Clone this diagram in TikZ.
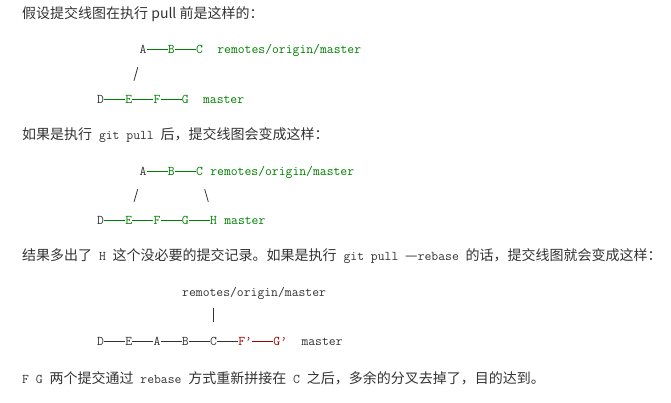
\documentclass[tikz,border=0pt]{standalone}
\usepackage{fontspec}
\setmainfont{Noto Sans CJK SC}
\usetikzlibrary{positioning}
\definecolor{gitgreen}{HTML}{008000}
\definecolor{gitred}{HTML}{A00000}
\definecolor{inktext}{HTML}{333333}
\newcommand{\gitcmd}[1]{{\ttfamily\fontsize{13.3pt}{16pt}\selectfont #1}}

\begin{document}
\begin{tikzpicture}[
      x=1pt, y=-1pt,
      node distance=21pt,
      commit/.style={inner sep=0pt, text height=1.5ex, text depth=0pt,
                     font=\ttfamily\fontsize{13.3pt}{16pt}\selectfont, text=inktext},
      newcommit/.style={commit, text=gitgreen},
      moved/.style={commit, text=gitred},
      branch/.style={commit},
      para/.style={anchor=west, inner sep=0pt, text=inktext,
                   font=\fontsize{14pt}{17pt}\selectfont},
      conn/.style={draw=#1, line width=0.9pt},
      conn/.default=gitgreen,
      slash/.style={draw=inktext, line width=0.8pt, shorten <=14.5pt, shorten >=14.5pt}
    ]
      \fill[white] (0,0) rectangle (671,402);
      \useasboundingbox (0,0) rectangle (671,402);

      % before git pull
      \node[para] (intro) at (22,14) {假设提交线图在执行 pull 前是这样的：};
      \node[commit] (a1) at (143,49) {A};
      \node[newcommit, right=of a1] (b1) {B};
      \node[newcommit, right=of b1] (c1) {C};
      \node[branch, text=gitgreen, right=14pt of c1] (origin1) {remotes/origin/master};
      \node[commit] (d1) at (100.5,99) {D};
      \node[newcommit, right=of d1] (e1) {E};
      \node[newcommit, right=of e1] (f1) {F};
      \node[newcommit, right=of f1] (g1) {G};
      \node[branch, text=gitgreen, right=14pt of g1] (master1) {master};
      \draw[conn] (a1) -- (b1);
      \draw[conn] (b1) -- (c1);
      \draw[conn] (d1) -- (e1);
      \draw[conn] (e1) -- (f1);
      \draw[conn] (f1) -- (g1);
      \draw[slash] (a1) -- (e1);

      % after git pull
      \node[para] (pull) at (22,135) {如果是执行\gitcmd{ git pull }后，提交线图会变成这样：};
      \node[commit] (a2) at (143,171) {A};
      \node[newcommit, right=of a2] (b2) {B};
      \node[newcommit, right=of b2] (c2) {C};
      \node[branch, text=gitgreen, right=7pt of c2] (origin2) {remotes/origin/master};
      \node[commit] (d2) at (100.5,220) {D};
      \node[newcommit, right=of d2] (e2) {E};
      \node[newcommit, right=of e2] (f2) {F};
      \node[newcommit, right=of f2] (g2) {G};
      \node[newcommit, right=of g2] (h2) {H};
      \node[branch, text=gitgreen, right=7pt of h2] (master2) {master};
      \draw[conn] (a2) -- (b2);
      \draw[conn] (b2) -- (c2);
      \draw[conn] (d2) -- (e2);
      \draw[conn] (e2) -- (f2);
      \draw[conn] (f2) -- (g2);
      \draw[conn] (g2) -- (h2);
      \draw[slash] (a2) -- (e2);
      \draw[slash] (c2) -- (h2);

      % after git pull --rebase
      \node[para] (rebase) at (22,256) {结果多出了\gitcmd{ H }这个没必要的提交记录。如果是执行\gitcmd{ git pull }—\gitcmd{rebase }的话，提交线图就会变成这样：};
      \node[branch, anchor=west] (origin3) at (182,292) {remotes/origin/master};
      \node[commit] (d3) at (100.5,341) {D};
      \node[commit, right=of d3] (e3) {E};
      \node[commit, right=of e3] (a3) {A};
      \node[commit, right=of a3] (b3) {B};
      \node[commit, right=of b3] (c3) {C};
      \node[moved, right=of c3] (f3) {F’};
      \node[moved, right=of f3] (g3) {G’};
      \node[branch, right=14pt of g3] (master3) {master};
      \draw[conn=inktext] (d3) -- (e3);
      \draw[conn=inktext] (e3) -- (a3);
      \draw[conn=inktext] (a3) -- (b3);
      \draw[conn=inktext] (b3) -- (c3);
      \draw[conn=inktext] (c3) -- (f3);
      \draw[conn=gitred] (f3) -- (g3);
      \draw[draw=inktext, line width=0.8pt, shorten <=12pt, shorten >=15pt] (origin3.south -| c3) -- (c3.north);

      \node[para] (result) at (22,378) {\gitcmd{F G }两个提交通过\gitcmd{ rebase }方式重新拼接在\gitcmd{ C }之后，多余的分叉去掉了，目的达到。};
    \end{tikzpicture}
\end{document}
